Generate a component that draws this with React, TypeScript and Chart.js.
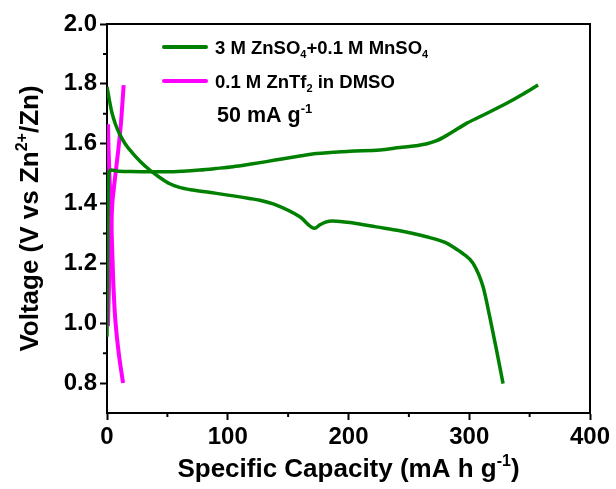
import React, { useEffect, useRef } from "react";
import { Chart, registerables } from "chart.js";

Chart.register(...registerables);

// 3 M ZnSO4 + 0.1 M MnSO4 — discharge branch
const znDisX = [0, 2, 4, 7, 10.5, 15, 21.5, 28, 35.4, 43.7, 52, 60, 71.3, 90.6, 118, 126.5, 140.3, 159.7, 172, 176, 181, 187, 204, 223, 242.5, 264.6, 280, 286.7, 295, 303.2, 311.5, 317, 322.6, 328];
const znDisY = [1.79, 1.745, 1.705, 1.665, 1.632, 1.6, 1.567, 1.539, 1.512, 1.487, 1.466, 1.454, 1.445, 1.434, 1.417, 1.411, 1.395, 1.356, 1.317, 1.328, 1.338, 1.342, 1.335, 1.322, 1.309, 1.289, 1.27, 1.255, 1.232, 1.2, 1.121, 1.021, 0.91, 0.798];

// 3 M ZnSO4 + 0.1 M MnSO4 — charge branch
const znChX = [0, 0.3, 0.6, 1.0, 1.5, 2.5, 3.6, 7.7, 20, 35, 50, 63, 76.8, 90, 104.4, 118, 132, 146, 159.7, 173.5, 187, 201, 226, 242.5, 253.6, 265, 273, 284, 297.7, 314.3, 331, 344.7, 357];
const znChY = [0.955, 1.1, 1.3, 1.45, 1.5, 1.51, 1.512, 1.509, 1.507, 1.506, 1.506, 1.508, 1.512, 1.517, 1.523, 1.531, 1.54, 1.55, 1.559, 1.567, 1.571, 1.575, 1.579, 1.587, 1.592, 1.6, 1.61, 1.634, 1.668, 1.701, 1.735, 1.766, 1.796];

// 0.1 M ZnTf2 in DMSO — discharge branch
const dmsoDisX = [0.8, 1.3, 2, 2.8, 3.5, 4.2, 5, 6.4, 7.8, 9, 10.5, 12, 13.3];
const dmsoDisY = [1.665, 1.58, 1.5, 1.42, 1.35, 1.26, 1.16, 1.04, 0.97, 0.925, 0.876, 0.835, 0.8];

// 0.1 M ZnTf2 in DMSO — charge branch
const dmsoChX = [0.8, 1.2, 1.8, 2.5, 3.3, 4.4, 5.4, 6.4, 7.5, 8.5, 9.5, 10.5, 11.5, 12.5, 13.8];
const dmsoChY = [0.99, 1.06, 1.14, 1.22, 1.3, 1.4, 1.44, 1.478, 1.515, 1.55, 1.585, 1.623, 1.665, 1.72, 1.796];

// Axis ticks
const xTicks = [0, 100, 200, 300, 400];
const xMinorTicks = [50, 150, 250, 350];
const yTicks = [0.8, 1.0, 1.2, 1.4, 1.6, 1.8, 2.0];
const yMinorTicks = [0.9, 1.1, 1.3, 1.5, 1.7, 1.9];

const GREEN = "#008000";
const MAGENTA = "#ff00ff";
const FAMILY = '"Liberation Sans", Arial, Helvetica, sans-serif';

type Part = { t: string; s?: "sub" | "sup" };

const fontOf = (size: number) => `bold ${size}px ${FAMILY}`;

// Draws a run of text with sub/superscript pieces
function drawRich(ctx: CanvasRenderingContext2D, parts: Part[], x: number, y: number, size: number, align: "left" | "center") {
  const sizes = parts.map((p) => (p.s ? Math.round(size * 0.62) : size));
  const widths = parts.map((p, i) => {
    ctx.font = fontOf(sizes[i]);
    return ctx.measureText(p.t).width;
  });
  const total = widths.reduce((a, b) => a + b, 0);
  let cx = align === "center" ? x - total / 2 : x;
  ctx.textAlign = "left";
  ctx.textBaseline = "alphabetic";
  ctx.fillStyle = "#000";
  parts.forEach((p, i) => {
    ctx.font = fontOf(sizes[i]);
    const dy = p.s === "sub" ? size * 0.22 : p.s === "sup" ? -size * 0.42 : 0;
    ctx.fillText(p.t, cx, y + dy);
    cx += widths[i];
  });
}

const toPoints = (xs: number[], ys: number[]) => xs.map((x, i) => ({ x, y: ys[i] }));

const decorPlugin = {
  id: "decor",
  afterDraw(chart: any) {
    const ctx: CanvasRenderingContext2D = chart.ctx;
    const { left, right, top, bottom } = chart.chartArea;
    const xs = chart.scales.x;
    const ys = chart.scales.y;
    ctx.save();

    // frame: top and right edges
    ctx.strokeStyle = "#000";
    ctx.lineWidth = 2;
    ctx.beginPath();
    ctx.moveTo(left - 1, top);
    ctx.lineTo(right, top);
    ctx.lineTo(right, bottom + 1);
    ctx.stroke();

    // minor ticks
    ctx.beginPath();
    yMinorTicks.forEach((v) => {
      const py = ys.getPixelForValue(v);
      ctx.moveTo(left - 4, py);
      ctx.lineTo(left, py);
    });
    xMinorTicks.forEach((v) => {
      const px = xs.getPixelForValue(v);
      ctx.moveTo(px, bottom);
      ctx.lineTo(px, bottom + 4);
    });
    ctx.stroke();

    // legend
    const legend: { color: string; parts: Part[]; y: number }[] = [
      { color: GREEN, parts: [{ t: "3 M ZnSO" }, { t: "4", s: "sub" }, { t: "+0.1 M MnSO" }, { t: "4", s: "sub" }], y: 47 },
      { color: MAGENTA, parts: [{ t: "0.1 M ZnTf" }, { t: "2", s: "sub" }, { t: " in DMSO" }], y: 81 },
    ];
    legend.forEach((item) => {
      ctx.strokeStyle = item.color;
      ctx.lineWidth = 4;
      ctx.lineCap = "round";
      ctx.beginPath();
      ctx.moveTo(164, item.y);
      ctx.lineTo(206, item.y);
      ctx.stroke();
      drawRich(ctx, item.parts, 215, item.y + 6.5, 18.5, "left");
    });

    // current density note
    drawRich(ctx, [{ t: "50 mA g" }, { t: "-1", s: "sup" }], 217, 122, 21.5, "left");

    // axis titles
    drawRich(ctx, [{ t: "Specific Capacity (mA h g" }, { t: "-1", s: "sup" }, { t: ")" }], (left + right) / 2, 477, 26, "center");
    ctx.translate(38, (top + bottom) / 2);
    ctx.rotate(-Math.PI / 2);
    drawRich(ctx, [{ t: "Voltage (V vs Zn" }, { t: "2+", s: "sup" }, { t: "/Zn)" }], 0, 0, 26, "center");

    ctx.restore();
  },
};

export default function App() {
  const ref = useRef<HTMLCanvasElement>(null);

  useEffect(() => {
    if (!ref.current) return;
    const lineStyle = (color: string, width: number) => ({
      borderColor: color,
      backgroundColor: color,
      borderWidth: width,
      pointRadius: 0,
      cubicInterpolationMode: "monotone" as const,
      fill: false,
    });
    const tickFont = { family: FAMILY, size: 24, weight: "bold" as const };
    const chart = new Chart(ref.current, {
      type: "line",
      data: {
        datasets: [
          { label: "3 M ZnSO4+0.1 M MnSO4 discharge", data: toPoints(znDisX, znDisY), ...lineStyle(GREEN, 3.5) },
          { label: "3 M ZnSO4+0.1 M MnSO4 charge", data: toPoints(znChX, znChY), ...lineStyle(GREEN, 3.5) },
          { label: "0.1 M ZnTf2 in DMSO discharge", data: toPoints(dmsoDisX, dmsoDisY), ...lineStyle(MAGENTA, 4) },
          { label: "0.1 M ZnTf2 in DMSO charge", data: toPoints(dmsoChX, dmsoChY), ...lineStyle(MAGENTA, 4) },
        ],
      },
      options: {
        responsive: false,
        animation: false,
        layout: { padding: { left: 0, top: 24, right: 26, bottom: 0 } },
        plugins: { legend: { display: false }, tooltip: { enabled: false } },
        scales: {
          x: {
            type: "linear",
            min: 0,
            max: 400,
            afterBuildTicks: (s: any) => {
              s.ticks = xTicks.map((value) => ({ value }));
            },
            afterFit: (s: any) => {
              s.height = 76;
            },
            grid: { drawOnChartArea: false, drawTicks: true, tickLength: 7, tickWidth: 2, tickColor: "#000" },
            border: { display: true, color: "#000", width: 2 },
            ticks: { font: tickFont, color: "#000", padding: 3, maxRotation: 0 },
          },
          y: {
            type: "linear",
            min: 0.7,
            max: 2.0,
            afterBuildTicks: (s: any) => {
              s.ticks = yTicks.map((value) => ({ value }));
            },
            afterFit: (s: any) => {
              s.width = 107;
            },
            grid: { drawOnChartArea: false, drawTicks: true, tickLength: 7, tickWidth: 2, tickColor: "#000" },
            border: { display: true, color: "#000", width: 2 },
            ticks: { font: tickFont, color: "#000", padding: 3, callback: (v: any) => Number(v).toFixed(1) },
          },
        },
      },
      plugins: [decorPlugin],
    });
    return () => chart.destroy();
  }, []);

  return (
    <div style={{ position: "fixed", left: 0, top: 0, width: 616, height: 489, background: "#fff" }}>
      <canvas ref={ref} width={616} height={489} style={{ display: "block" }} />
    </div>
  );
}
